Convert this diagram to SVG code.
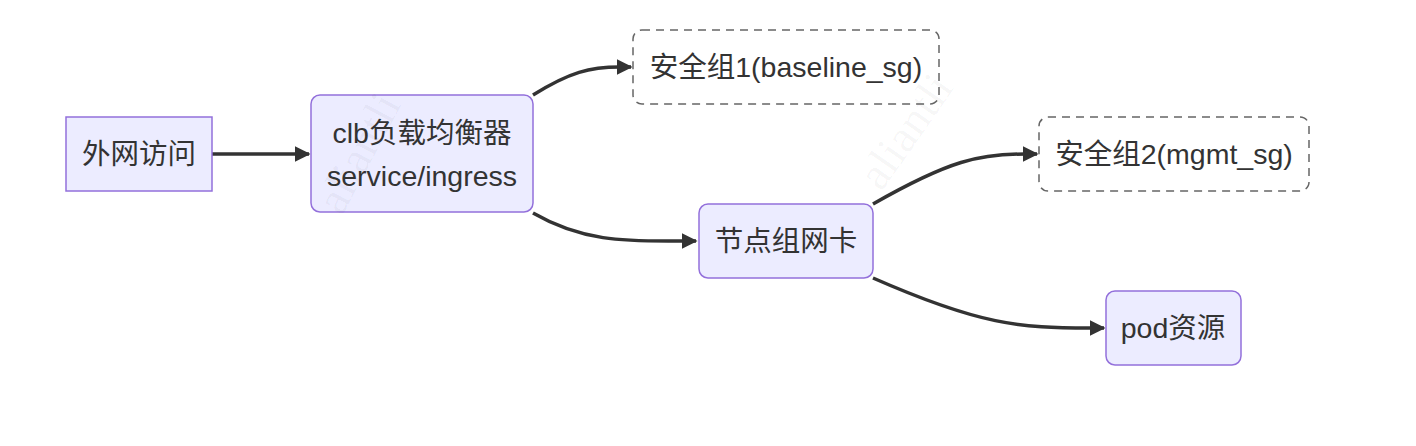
<svg xmlns="http://www.w3.org/2000/svg" width="1416" height="446" viewBox="0 0 1416 446">
<style>
.node rect{fill:#ECECFF;stroke:#9370DB;stroke-width:1.5}
.sg rect{fill:#ffffff;stroke:#666666;stroke-width:1.5;stroke-dasharray:8 6}
text.lbl{font-family:"Liberation Sans","Noto Sans CJK SC",sans-serif;font-size:28.5px;fill:#333333;text-anchor:middle;dominant-baseline:central}
.edge{fill:none;stroke:#333333;stroke-width:3.5}
.wm{font-family:"Liberation Serif",serif;font-size:46px;fill:#000000;fill-opacity:0.04;text-anchor:middle}
</style>
<defs>
<marker id="arrow" viewBox="0 0 10 10" refX="9" refY="5" markerWidth="4.5" markerHeight="4.5" orient="auto" markerUnits="strokeWidth">
<path d="M0,0 L10,5 L0,10 z" fill="#333333"/>
</marker>
</defs>
<rect width="1416" height="446" fill="#ffffff"/>
<g id="connectors">
<path class="edge" marker-end="url(#arrow)" d="M212,154 L309,154"/>
<path class="edge" marker-end="url(#arrow)" d="M533,95 C570,72 590,67 620,67 L631,67"/>
<path class="edge" marker-end="url(#arrow)" d="M533,213 C585,243 630,241 680,241 L696,241"/>
<path class="edge" marker-end="url(#arrow)" d="M873,204 C950,160 980,154 1025,154 L1037,154"/>
<path class="edge" marker-end="url(#arrow)" d="M873,278 C980,325 1020,328 1090,328 L1104,328"/>
</g>
<g id="node-waiwang" class="node">
<rect x="66" y="117" width="146" height="74"/>
<text class="lbl" x="139" y="154">外网访问</text>
</g>
<g id="node-clb" class="node">
<rect x="311" y="95" width="222" height="117" rx="9" ry="9"/>
<text class="lbl" x="422" y="133">clb负载均衡器</text>
<text class="lbl" x="422" y="176">service/ingress</text>
</g>
<g id="node-sg1" class="sg">
<rect x="633" y="30" width="306" height="74" rx="9" ry="9"/>
<text class="lbl" x="786" y="67">安全组1(baseline_sg)</text>
</g>
<g id="node-nic" class="node">
<rect x="699" y="204" width="174" height="74" rx="9" ry="9"/>
<text class="lbl" x="786" y="241">节点组网卡</text>
</g>
<g id="node-sg2" class="sg">
<rect x="1039" y="117" width="270" height="74" rx="9" ry="9"/>
<text class="lbl" x="1174" y="154">安全组2(mgmt_sg)</text>
</g>
<g id="node-pod" class="node">
<rect x="1106" y="291" width="135" height="74" rx="9" ry="9"/>
<text class="lbl" x="1173" y="328">pod资源</text>
</g>
<text class="wm" transform="translate(918,140) rotate(-55)">aliantli</text>
<text class="wm" transform="translate(372,160) rotate(-62)">aliantli</text>
</svg>
